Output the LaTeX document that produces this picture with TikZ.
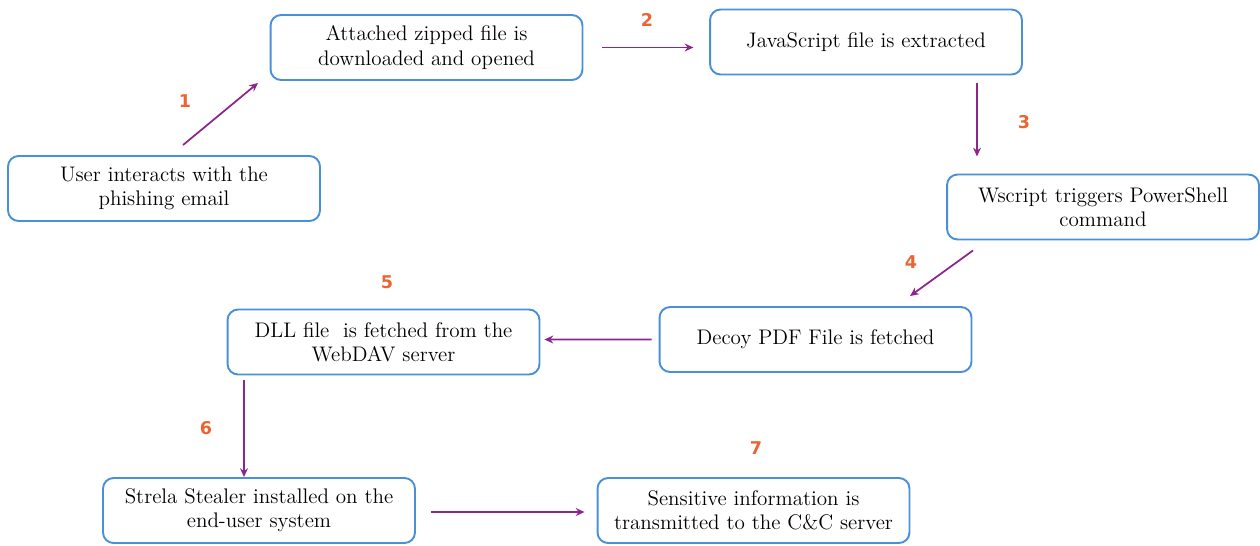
\documentclass[tikz,border=0pt]{standalone}
\usepackage{fontspec}
\newfontfamily\numfont{DejaVu Sans}
\usetikzlibrary{arrows.meta,calc}
\definecolor{boxblue}{RGB}{74,144,217}
\definecolor{flowpurple}{RGB}{140,38,140}
\definecolor{steporange}{RGB}{235,100,50}
\tikzset{>=Stealth,
  stage/.style={draw=boxblue,line width=1.1pt,rounded corners=6pt,minimum width=6.24cm,minimum height=1.3cm,align=center,font=\fontsize{12}{13.7}\selectfont},
  flow/.style={->,draw=flowpurple,line width=1pt,>={Stealth[length=5pt,width=4.5pt]}},
  num/.style={text=steporange,font=\numfont\bfseries\fontsize{10}{12}\selectfont}}

\begin{document}
\begin{tikzpicture}[x=0.02cm,y=-0.02cm]
\useasboundingbox (0,0) rectangle (1260,545);
% stages
\node[stage] (user) at (164,188.5) {User interacts with the\\phishing email};
\node[stage] (zip) at (426.5,47.5) {Attached zipped file is\\downloaded and opened};
\node[stage] (js) at (866,42) {JavaScript file is extracted};
\node[stage] (wscript) at (1103,207) {Wscript triggers PowerShell\\command};
\node[stage] (decoy) at (815.5,339.5) {Decoy PDF File is fetched};
\node[stage] (dll) at (383.5,342) {DLL file\ \ is fetched from the\\WebDAV server};
\node[stage] (strela) at (259,510.5) {Strela Stealer installed on the\\end-user system};
\node[stage] (cc) at (753.5,510.5) {Sensitive information is\\transmitted to the C\&C server};
% step arrows
\draw[flow] ($(user.north)+(19,-10)$) -- ($(zip.south)+(-168.5,2)$);
\draw[flow] ($(zip.east)+(19,0)$) -- ($(zip.east)+(110,0)$);
\draw[flow] ($(js.south)+(111,8)$) -- ($(js.south)+(111,81)$);
\draw[flow] ($(wscript.south)+(-130,10)$) -- ($(decoy.north)+(94.5,-10)$);
\draw[flow] ($(decoy.west)+(-7,0)$) -- ($(dll.east)+(4,-2.5)$);
\draw[flow] ($(dll.south)+(-139.5,5)$) -- ($(strela.north)+(-15,0)$);
\draw[flow] ($(strela.east)+(15,1.5)$) -- ($(cc.west)+(-12,1.5)$);
% step numbers
\node[num] (n1) at (185,101) {1};
\node[num] (n2) at (647,20) {2};
\node[num] (n3) at (1024,122) {3};
\node[num] (n4) at (911,262) {4};
\node[num] (n5) at (387,282) {5};
\node[num] (n6) at (206,428) {6};
\node[num] (n7) at (756,448) {7};
\end{tikzpicture}
\end{document}
